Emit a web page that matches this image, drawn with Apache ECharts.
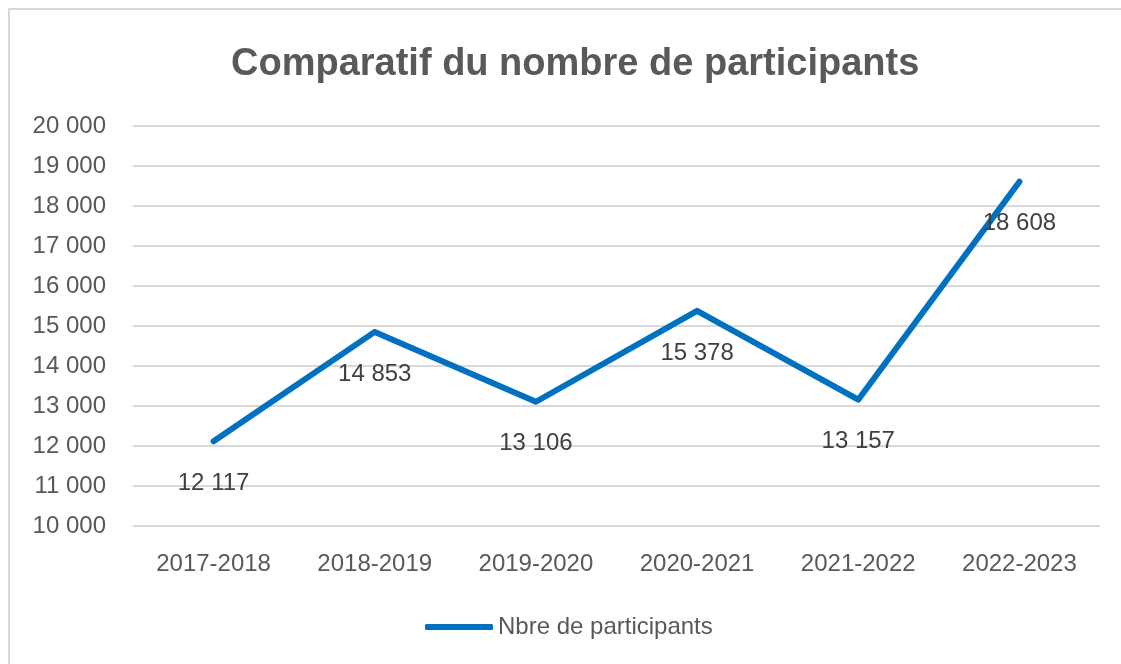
<!DOCTYPE html>
<html>
<head>
<meta charset="utf-8">
<script src="https://cdn.jsdelivr.net/npm/echarts@6/dist/echarts.min.js"></script>
<style>
  html, body { margin: 0; padding: 0; background: #fff; }
  #chart { width: 1121px; height: 664px; }
</style>
</head>
<body>
<div id="chart"></div>
<script>
// données du graphique
var categories = ['2017-2018', '2018-2019', '2019-2020', '2020-2021', '2021-2022', '2022-2023'];
var participants = [12117, 14853, 13106, 15378, 13157, 18608];
var seriesName = 'Nbre de participants';

var fontFam = '"Liberation Sans", Arial, sans-serif';
var grey = '#595959';

// séparateur de milliers : espace
function fmt(v) {
    return String(v).replace(/\B(?=(\d{3})+(?!\d))/g, ' ');
}

var chart = echarts.init(document.getElementById('chart'));

chart.setOption({
    animation: false,
    backgroundColor: '#fff',
    title: {
        text: 'Comparatif du nombre de participants',
        left: 226,
        top: 41,
        textStyle: {
            fontFamily: fontFam,
            fontSize: 38,
            fontWeight: 'bold',
            color: grey
        }
    },
    graphic: [{
        type: 'rect',
        shape: { x: 9, y: 9, width: 1300, height: 800 },
        style: { fill: 'none', stroke: '#d9d9d9', lineWidth: 2 },
        silent: true
    }],
    legend: {
        left: 420,
        top: 610,
        icon: 'roundRect',
        itemWidth: 68,
        itemHeight: 6,
        data: [seriesName],
        textStyle: { fontFamily: fontFam, fontSize: 24, color: grey }
    },
    grid: { left: 133, right: 21, top: 126, bottom: 138 },
    xAxis: {
        type: 'category',
        data: categories,
        boundaryGap: true,
        axisLine: { show: false },
        axisTick: { show: false },
        axisLabel: {
            margin: 26,
            fontFamily: fontFam,
            fontSize: 24,
            color: grey
        }
    },
    yAxis: {
        type: 'value',
        min: 10000,
        max: 20000,
        interval: 1000,
        axisLine: { show: false },
        axisTick: { show: false },
        axisLabel: {
            margin: 27,
            fontFamily: fontFam,
            fontSize: 24,
            color: grey,
            formatter: fmt
        },
        splitLine: { lineStyle: { color: '#d9d9d9', width: 2 } }
    },
    series: [{
        name: seriesName,
        type: 'line',
        data: participants,
        showSymbol: true,
        symbol: 'circle',
        symbolSize: 0.1,
        lineStyle: { color: '#0070C0', width: 6, cap: 'round', join: 'round' },
        itemStyle: { color: '#0070C0' },
        label: {
            show: true,
            position: 'bottom',
            distance: 30,
            fontFamily: fontFam,
            fontSize: 24,
            color: '#404040',
            formatter: function (p) { return fmt(p.value); }
        }
    }]
});
</script>
</body>
</html>
